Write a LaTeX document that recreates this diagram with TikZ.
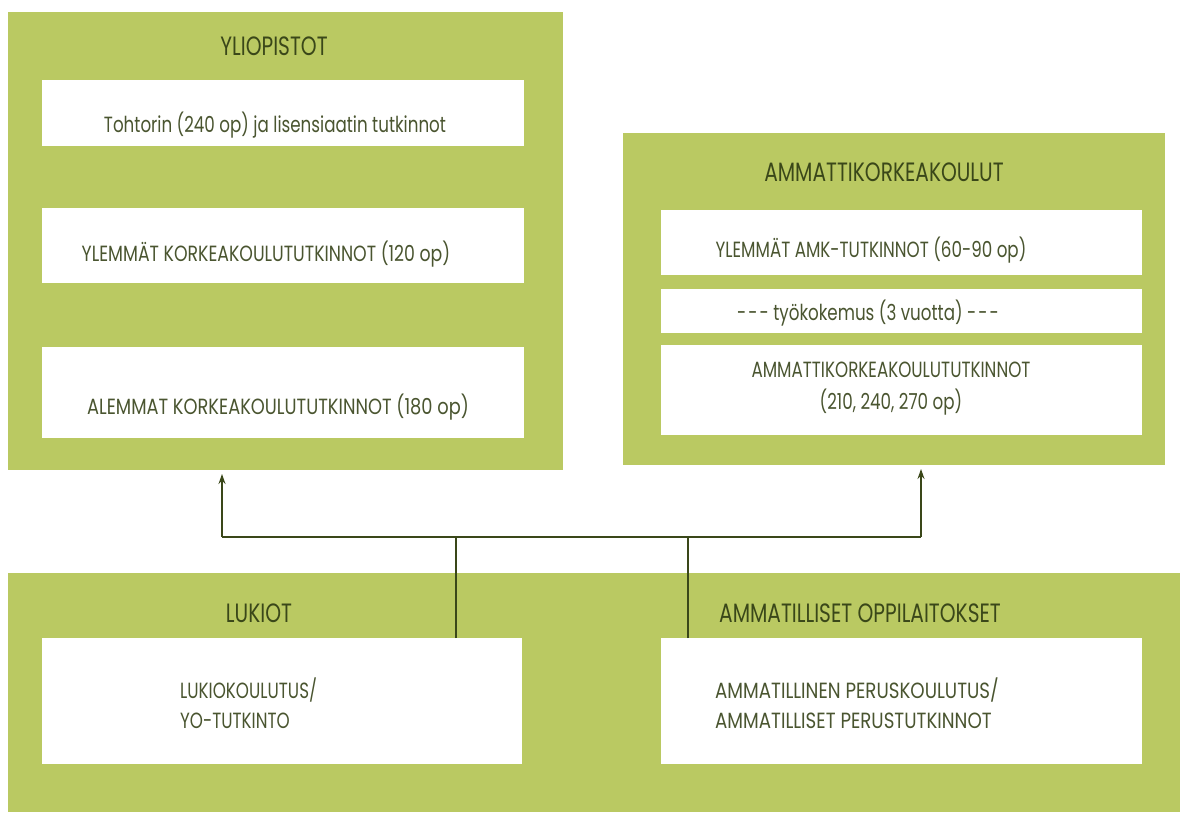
\documentclass[tikz,border=0pt]{standalone}
\usepackage{fontspec}
\setmainfont{Poppins}[FakeStretch=0.76]
\usetikzlibrary{arrows.meta}
\definecolor{grn}{HTML}{BAC962}
\definecolor{ink}{HTML}{3A4719}
\definecolor{ink2}{HTML}{4A5530}
\begin{document}
\begin{tikzpicture}[x=1pt,y=-1pt,
  greenbox/.style={fill=grn, draw=none, anchor=north west, inner sep=0pt, outer sep=0pt},
  whitebox/.style={fill=white, draw=none, anchor=north west, inner sep=0pt, outer sep=0pt},
  head/.style={text=ink, font=\fontsize{26.5}{28}\selectfont, inner sep=0pt},
  body/.style={text=ink2, font=\fontsize{22}{32}\selectfont, inner sep=0pt, align=center},
  bodyl/.style={text=ink2, font=\fontsize{22}{30}\selectfont, inner sep=0pt, align=left, anchor=west},
  conn/.style={draw=ink, line width=1.4pt},
  arr/.style={conn, -{Stealth[length=10pt,width=7pt]}, shorten >=4pt}]
\useasboundingbox (0,0) rectangle (1180,812);
\fill[white] (0,0) rectangle (1180,812);
% green containers
\node[greenbox, minimum width=555pt, minimum height=458pt] (yo) at (8,12) {};
\node[greenbox, minimum width=542pt, minimum height=332pt] (amk) at (623,133) {};
\node[greenbox, minimum width=1172pt, minimum height=239pt] (low) at (8,573) {};
% white boxes
\node[whitebox, minimum width=482pt, minimum height=66pt] (toht) at (42,80) {};
\node[whitebox, minimum width=482pt, minimum height=75pt] (ylem) at (42,208) {};
\node[whitebox, minimum width=482pt, minimum height=91pt] (alem) at (42,347) {};
\node[whitebox, minimum width=481pt, minimum height=65pt] (amky) at (661,210) {};
\node[whitebox, minimum width=481pt, minimum height=44pt] (tyo) at (661,289) {};
\node[whitebox, minimum width=481pt, minimum height=90pt] (amkt) at (661,345) {};
\node[whitebox, minimum width=480pt, minimum height=126pt] (luk) at (42,638) {};
\node[whitebox, minimum width=481pt, minimum height=126pt] (amm) at (661,638) {};
% headings
\node[head] (tyo1) at (274,46) {YLIOPISTOT};
\node[head] (tamk) at (884,172) {AMMATTIKORKEAKOULUT};
\node[head] (tluk) at (259,613) {LUKIOT};
\node[head] (tamm) at (860,613) {AMMATILLISET OPPILAITOKSET};
% texts
\node[body] (x1) at (275,125) {Tohtorin (240 op) ja lisensiaatin tutkinnot};
\node[body] (x2) at (266,254) {\scalebox{1.035}[1]{YLEMMÄT KORKEAKOULUTUTKINNOT (120 op)}};
\node[body] (x3) at (278,407) {\scalebox{1.065}[1]{ALEMMAT KORKEAKOULUTUTKINNOT (180 op)}};
\node[body] (x4) at (871,250) {YLEMMÄT AMK-TUTKINNOT (60-90 op)};
\node[body] (x5) at (868,313) {-\kern2pt-\kern2pt- työkokemus (3 vuotta) -\kern2pt-\kern2pt-};
\node[body] (x6) at (891,389) {AMMATTIKORKEAKOULUTUTKINNOT\\(210, 240, 270 op)};
\node[bodyl] (x7) at (180,703) {LUKIOKOULUTUS/\\YO-TUTKINTO};
\node[bodyl] (x8) at (715,703) {\scalebox{1.09}[1]{AMMATILLINEN PERUSKOULUTUS/}\\\scalebox{1.09}[1]{AMMATILLISET PERUSTUTKINNOT}};
% connectors
\coordinate (j1) at (222,537);
\coordinate (j2) at (921,537);
\coordinate (v1) at (456,537);
\coordinate (v2) at (688,537);
\draw[conn] (j1) -- (j2);
\draw[arr] (j1) -- (yo.south -| j1);
\draw[arr] (j2) -- (amk.south -| j2);
\draw[conn] (luk.north -| v1) -- (v1);
\draw[conn] (amm.north -| v2) -- (v2);
\end{tikzpicture}
\end{document}
